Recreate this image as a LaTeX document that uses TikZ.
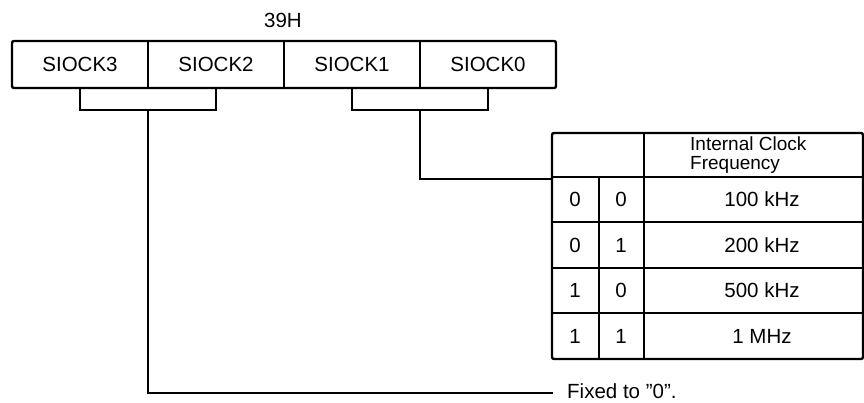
\documentclass[tikz,border=0pt]{standalone}
\usepackage{fontspec}
\setmainfont{Liberation Sans}
\begin{document}
\begin{tikzpicture}[x=1pt,y=-1pt,
  reglabel/.style={font=\fontsize{20.5}{21}\selectfont, inner sep=0pt},
  celltext/.style={font=\fontsize{20.5}{21}\selectfont, inner sep=0pt},
  hdrtext/.style={font=\fontsize{19}{19}\selectfont, inner sep=0pt, align=left, anchor=west},
  thick line/.style={line width=2.4pt},
  thin line/.style={line width=1.2pt},
  conn/.style={line width=1.4pt}]
\useasboundingbox (0,0) rectangle (864,402);
% title
\node[reglabel] (title) at (283,20) {39H};
% register box
\draw[thick line, rounded corners=2pt] (12,41) rectangle (556,88);
\foreach \x in {148,284,420} \draw[thin line] (\x,41) -- (\x,88);
\node[reglabel] (b3) at (80,64.5) {SIOCK3};
\node[reglabel] (b2) at (216,64.5) {SIOCK2};
\node[reglabel] (b1) at (352,64.5) {SIOCK1};
\node[reglabel] (b0) at (488,64.5) {SIOCK0};
% named points for connectors
\coordinate (b3s) at (80,88);
\coordinate (b2s) at (216,88);
\coordinate (b1s) at (352,88);
\coordinate (b0s) at (488,88);
\coordinate (br1) at (148,110);
\coordinate (br2) at (420,110);
\coordinate (tabjoin) at (552,179);
\coordinate (fixend) at (553,393);
% brackets
\draw[conn] (b3s) |- (br1) -| (b2s);
\draw[conn] (b1s) |- (br2) -| (b0s);
% stems
\draw[conn] (br1) |- (fixend);
\draw[conn] (br2) |- (tabjoin);
\node[celltext, anchor=base west] (fixed) at (567,398) {Fixed to ''0''.};
% table
\draw[thin line] (552,222) -- (863,222);
\draw[thin line] (552,268) -- (863,268);
\draw[thin line] (552,313) -- (863,313);
\draw[thin line] (599,177) -- (599,359);
\draw[thick line] (552,177) -- (863,177);
\draw[thick line] (644,133) -- (644,359);
\draw[thick line, rounded corners=2pt] (552,133) rectangle (863,359);
\node[hdrtext] (hdr) at (690,155) {Internal Clock\\Frequency};
\node[celltext] (r1a) at (575,199.5) {0};
\node[celltext] (r1b) at (621,199.5) {0};
\node[celltext] (r1c) at (762,199.5) {100 kHz};
\node[celltext] (r2a) at (575,245) {0};
\node[celltext] (r2b) at (621,245) {1};
\node[celltext] (r2c) at (762,245) {200 kHz};
\node[celltext] (r3a) at (575,290.5) {1};
\node[celltext] (r3b) at (621,290.5) {0};
\node[celltext] (r3c) at (762,290.5) {500 kHz};
\node[celltext] (r4a) at (575,336) {1};
\node[celltext] (r4b) at (621,336) {1};
\node[celltext] (r4c) at (762,336) {1 MHz};
\end{tikzpicture}
\end{document}
